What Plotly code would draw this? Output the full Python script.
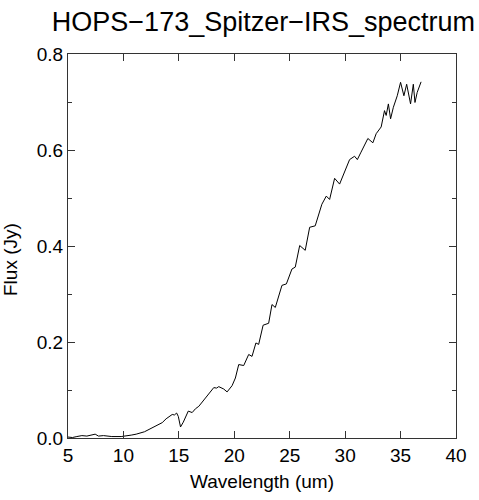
import plotly.graph_objects as go

# spectrum
wavelength = [5.0, 5.4, 5.8, 6.25, 6.7, 7.15, 7.45, 7.75, 8.2, 8.95, 9.8, 10.7, 11.15,
              11.9, 12.35, 12.8, 13.2, 13.5, 13.85, 14.1, 14.4, 14.6, 14.8, 14.95,
              15.15, 15.4, 15.6, 15.85, 16.2, 16.5, 16.8, 17.1, 17.4, 17.7, 18.15,
              18.4, 18.6, 19.05, 19.35, 19.8, 20.1, 20.4, 20.85, 21.3, 21.6, 21.95,
              22.2, 22.6, 23.1, 23.4, 23.7, 24.3, 24.7, 25.2, 25.5, 25.9, 26.4, 26.8,
              27.3, 27.9, 28.3, 28.6, 29.05, 29.5, 29.95, 30.4, 30.85, 31.1, 31.4,
              32.05, 32.5, 32.8, 33.25, 33.55, 33.7, 33.9, 34.1, 34.35, 34.7, 35.0,
              35.3, 35.55, 35.9, 36.15, 36.3, 36.5, 36.85]
flux = [0.002, 0.001, 0.003, 0.005, 0.004, 0.006, 0.008, 0.004, 0.005, 0.003, 0.003,
        0.006, 0.008, 0.013, 0.018, 0.023, 0.029, 0.032, 0.040, 0.044, 0.049, 0.048,
        0.052, 0.045, 0.023, 0.033, 0.045, 0.056, 0.053, 0.061, 0.066, 0.075, 0.082,
        0.092, 0.105, 0.104, 0.107, 0.102, 0.096, 0.109, 0.125, 0.153, 0.151, 0.174,
        0.170, 0.198, 0.195, 0.235, 0.239, 0.278, 0.272, 0.318, 0.321, 0.352, 0.356,
        0.401, 0.391, 0.439, 0.442, 0.487, 0.504, 0.497, 0.541, 0.529, 0.556, 0.580,
        0.587, 0.580, 0.594, 0.624, 0.615, 0.634, 0.648, 0.682, 0.672, 0.696, 0.665,
        0.689, 0.713, 0.741, 0.713, 0.737, 0.696, 0.737, 0.699, 0.720, 0.742]

x_ticks = [5, 10, 15, 20, 25, 30, 35, 40]
y_ticks = [0.0, 0.2, 0.4, 0.6, 0.8]

fig = go.Figure()
fig.add_trace(go.Scatter(x=wavelength, y=flux, mode="lines",
                         line=dict(color="black", width=1), showlegend=False))

font = "Liberation Sans, Arial, sans-serif"
axis_common = dict(showgrid=False, zeroline=False, showline=True, mirror="allticks",
                   linecolor="#333333", linewidth=1, ticks="inside", ticklen=7,
                   tickcolor="#333333", tickfont=dict(family=font, size=19, color="black"))

fig.update_xaxes(range=[5, 40], tickvals=x_ticks,
                 title=dict(text="Wavelength (um)", font=dict(family=font, size=19, color="black"),
                            standoff=9),
                 **axis_common)
fig.update_yaxes(range=[0, 0.8], tickvals=y_ticks, tickformat=".1f",
                 minor=dict(ticks="inside", ticklen=4, dtick=0.1, tickcolor="#333333"),
                 **axis_common)

# y title sits a little below the plot middle in the original
fig.add_annotation(text="Flux (Jy)", xref="paper", yref="paper", x=-0.148, y=0.465,
                   xanchor="center", yanchor="middle", textangle=-90, showarrow=False,
                   font=dict(family=font, size=19, color="black"))

fig.update_layout(
    width=479, height=500,
    paper_bgcolor="white", plot_bgcolor="white",
    margin=dict(l=68, r=20, t=54, b=58),
    title=dict(text="HOPS\u2212173_Spitzer\u2212IRS_spectrum", x=0.55, xanchor="center",
               y=0.975, yanchor="top", font=dict(family=font, size=27, color="black")),
)

fig.write_html("out.html", config={"displayModeBar": False},
               post_script="document.body.style.margin='0';")
